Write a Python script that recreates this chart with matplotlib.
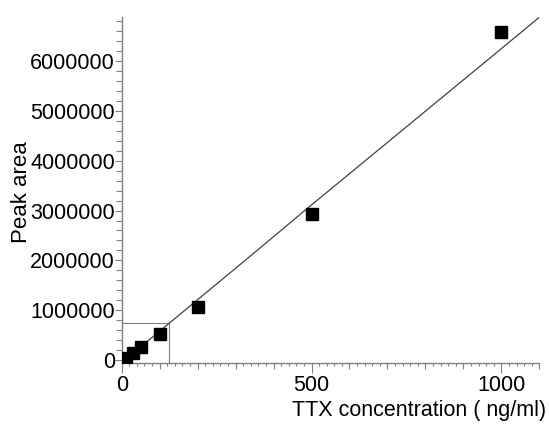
import matplotlib
matplotlib.use("Agg")
import matplotlib.pyplot as plt
from matplotlib.ticker import MultipleLocator, FixedLocator, NullFormatter

plt.rcParams['font.family'] = ['Liberation Sans', 'DejaVu Sans']

# Calibration standards
conc = [5, 10, 30, 50, 100, 200, 500, 1000]
area = [20000, 50000, 140000, 260000, 520000, 1070000, 2940000, 6570000]

# Fitted calibration line
fit_x = [0, 125, 355, 487, 995, 1100]
fit_y = [-46000, 741000, 2190000, 3030000, 6210000, 6870000]

# Zoom box in the low range
box_x = 125
box_y = 741000

x_ticks = [0, 500, 1000]
x_labels = ['0', '500', '1000']
y_ticks = [0, 1000000, 2000000, 3000000, 4000000, 5000000, 6000000]
y_labels = ['0', '1000000', '2000000', '3000000', '4000000', '5000000', '6000000']

xmin, xmax = 0, 1100
ymin, ymax = -48000, 6870000

fig = plt.figure(figsize=(5.49, 4.25), dpi=100)
ax = fig.add_axes([0.2217, 0.1466, 0.7606, 0.8127])

axis_gray = '#808080'

ax.plot(fit_x, fit_y, color='#404040', lw=0.9, zorder=2)
ax.plot([xmin, box_x, box_x], [box_y, box_y, ymin], color=axis_gray, lw=0.8, zorder=1)
ax.plot(conc, area, linestyle='none', marker='s', markersize=8, color='black', zorder=3)

ax.set_xlim(xmin, xmax)
ax.set_ylim(ymin, ymax)

for s in ['top', 'right']:
    ax.spines[s].set_visible(False)
for s in ['left', 'bottom']:
    ax.spines[s].set_color(axis_gray)
    ax.spines[s].set_linewidth(1.0)

ax.set_xticks(x_ticks)
ax.set_xticklabels(x_labels)
ax.set_yticks(y_ticks)
ax.set_yticklabels(y_labels)
ax.xaxis.set_minor_locator(MultipleLocator(20))
ax.yaxis.set_minor_locator(MultipleLocator(200000))

ax.tick_params(axis='x', which='major', length=7.5, width=0.8, color=axis_gray,
               labelsize=15.5, pad=1)
ax.tick_params(axis='x', which='minor', length=2.3, width=0.8, color=axis_gray)
ax.tick_params(axis='y', which='major', length=5, width=0.8, color=axis_gray,
               labelsize=15.5, pad=0)
ax.tick_params(axis='y', which='minor', length=4, width=0.8, color=axis_gray)

# medium ticks every 100
sec = ax.secondary_xaxis('bottom')
sec.xaxis.set_major_locator(FixedLocator([100, 200, 300, 400, 600, 700, 800, 900, 1100]))
sec.xaxis.set_major_formatter(NullFormatter())
sec.tick_params(axis='x', length=4.5, width=0.8, color=axis_gray)
sec.spines['bottom'].set_visible(False)

ax.set_xlabel('TTX concentration ( ng/ml)', fontsize=15.5, ha='right', va='center')
ax.xaxis.set_label_coords(1.016, -0.137)
ax.set_ylabel('Peak area', fontsize=16, ha='center', va='center')
ax.yaxis.set_label_coords(-0.239, 0.494)

fig.savefig('out.png', dpi=100)
